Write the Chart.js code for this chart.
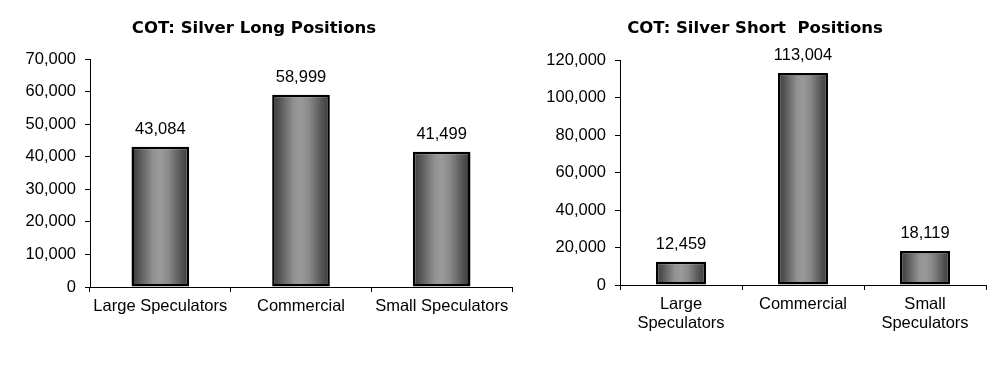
<!DOCTYPE html>
<html><head><meta charset="utf-8">
<script src="https://cdn.jsdelivr.net/npm/chart.js@4"></script>
<style>
html,body{margin:0;padding:0;background:#fff;width:1008px;height:382px;overflow:hidden}
.box{position:absolute;top:0}
canvas{display:block}
</style></head><body>
<div class="box" style="left:0"><canvas id="c1" width="520" height="382"></canvas></div>
<div class="box" style="left:520px"><canvas id="c2" width="488" height="382"></canvas></div>
<script>
const longTitle = 'COT: Silver Long Positions';
const shortTitle = 'COT: Silver Short  Positions';
const longCategories = ['Large Speculators', 'Commercial', 'Small Speculators'];
const shortCategories = [['Large', 'Speculators'], 'Commercial', ['Small', 'Speculators']];
const longValues = [43084, 58999, 41499];
const shortValues = [12459, 113004, 18119];
const longTicks = [0, 10000, 20000, 30000, 40000, 50000, 60000, 70000];
const shortTicks = [0, 20000, 40000, 60000, 80000, 100000, 120000];

const BAR_PCT = 0.41;
const TICK_FONT = {family: 'Liberation Sans', size: 16.5, lineHeight: 1.15};

function fmt(v) { return Number(v).toLocaleString('en-US'); }

function barGradient(ctx) {
  const chart = ctx.chart;
  const xs = chart.scales && chart.scales.x;
  if (!xs || ctx.dataIndex === undefined || !xs.ticks || !xs.ticks.length) return '#777';
  const c = xs.getPixelForValue(ctx.dataIndex);
  const w = (xs.width / xs.ticks.length) * BAR_PCT;
  const g = chart.ctx.createLinearGradient(c - w / 2, 0, c + w / 2, 0);
  g.addColorStop(0, '#3a3a3a');
  g.addColorStop(0.12, '#525252');
  g.addColorStop(0.38, '#929292');
  g.addColorStop(0.5, '#9a9a9a');
  g.addColorStop(0.64, '#8a8a8a');
  g.addColorStop(0.88, '#505050');
  g.addColorStop(1, '#3a3a3a');
  return g;
}

const fixedTitle = {
  id: 'fixedTitle',
  afterDraw(chart, args, opts) {
    const c = chart.ctx;
    c.save();
    c.font = 'bold 16.5px "DejaVu Sans"';
    c.fillStyle = '#000';
    c.textAlign = 'center';
    c.textBaseline = 'middle';
    c.fillText(opts.text, opts.x, opts.y);
    c.restore();
  }
};

const valueLabels = {
  id: 'valueLabels',
  afterDatasetsDraw(chart) {
    const c = chart.ctx;
    const meta = chart.getDatasetMeta(0);
    const data = chart.data.datasets[0].data;
    c.save();
    c.font = '16.5px "Liberation Sans"';
    c.fillStyle = '#000';
    c.textAlign = 'center';
    c.textBaseline = 'middle';
    meta.data.forEach((el, i) => {
      c.fillText(fmt(data[i]), el.x, el.y - 17.5);
    });
    c.restore();
  }
};

function makeChart(id, cats, vals, ticks, cfg) {
  return new Chart(document.getElementById(id), {
    type: 'bar',
    data: {
      labels: cats,
      datasets: [{
        data: vals,
        backgroundColor: barGradient,
        borderColor: '#000',
        borderWidth: 2.5,
        borderSkipped: false,
        categoryPercentage: 1,
        barPercentage: BAR_PCT
      }]
    },
    plugins: [fixedTitle, valueLabels],
    options: {
      responsive: false,
      animation: false,
      layout: {padding: {top: cfg.top, right: cfg.right, bottom: 0, left: 0}},
      plugins: {
        legend: {display: false},
        tooltip: {enabled: false},
        title: {display: false},
        fixedTitle: {text: cfg.title, x: cfg.titleX, y: 29}
      },
      scales: {
        x: {
          grid: {display: true, drawOnChartArea: false, drawTicks: true, tickLength: 5, color: '#000', offset: true},
          border: {display: true, color: '#000', width: 1},
          ticks: {color: '#000', font: TICK_FONT, padding: 5, maxRotation: 0, minRotation: 0, autoSkip: false},
          afterFit(s) { s.height = cfg.xHeight; }
        },
        y: {
          min: ticks[0],
          max: ticks[ticks.length - 1],
          grid: {display: true, drawOnChartArea: false, drawTicks: true, tickLength: 5, color: '#000'},
          border: {display: true, color: '#000', width: 1},
          ticks: {stepSize: ticks[1] - ticks[0], color: '#000', font: TICK_FONT, padding: 9, callback: v => fmt(v)},
          afterFit(s) { s.width = cfg.yWidth; }
        }
      }
    }
  });
}

makeChart('c1', longCategories, longValues, longTicks,
  {title: longTitle, titleX: 254, top: 59, right: 8, xHeight: 95, yWidth: 90});
makeChart('c2', shortCategories, shortValues, shortTicks,
  {title: shortTitle, titleX: 235, top: 60, right: 22, xHeight: 97, yWidth: 100});
</script>
</body></html>
